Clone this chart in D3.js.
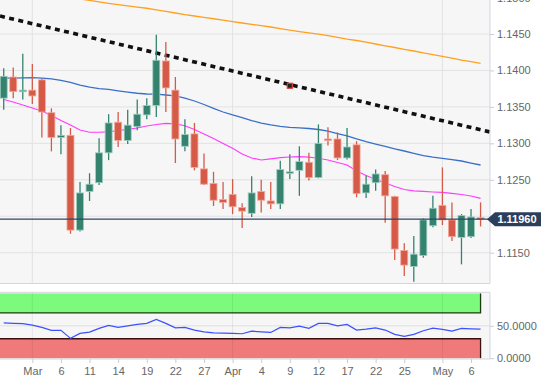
<!DOCTYPE html>
<html>
<head>
<meta charset="utf-8">
<script src="https://cdn.jsdelivr.net/npm/d3@7"></script>
<style>
    body { margin: 0; background: #fff; }
    #chart-area { width: 550px; height: 387px; }
    .axis text { font-family: "Liberation Sans", Arial, sans-serif; font-size: 11px; fill: #666; }
    .axis line { stroke: #c8ccd6; }
    .axis path { display: none; }
</style>
</head>
<body>
<div id="chart-area"></div>
<script>

// ---- data (EUR/USD daily) ----
let dates = ["2019-02-26","2019-02-27","2019-02-28","2019-03-01","2019-03-04","2019-03-05","2019-03-06","2019-03-07","2019-03-08",
    "2019-03-11","2019-03-12","2019-03-13","2019-03-14","2019-03-15","2019-03-18","2019-03-19","2019-03-20","2019-03-21","2019-03-22",
    "2019-03-25","2019-03-26","2019-03-27","2019-03-28","2019-03-29","2019-04-01","2019-04-02","2019-04-03","2019-04-04","2019-04-05",
    "2019-04-08","2019-04-09","2019-04-10","2019-04-11","2019-04-12","2019-04-15","2019-04-16","2019-04-17","2019-04-18","2019-04-19",
    "2019-04-22","2019-04-23","2019-04-24","2019-04-25","2019-04-26","2019-04-29","2019-04-30","2019-05-01","2019-05-02","2019-05-03",
    "2019-05-06","2019-05-07"];

let opens = [1.1362, 1.1391, 1.1371, 1.1373, 1.1387, 1.1342, 1.1308, 1.1311, 1.1181, 1.1234, 1.1246, 1.1287, 1.1329, 1.1304,
    1.1323, 1.1339, 1.1352, 1.1413, 1.1373, 1.1296, 1.1313, 1.1265, 1.1245, 1.1223, 1.1230, 1.1212, 1.1204, 1.1234, 1.1221,
    1.1217, 1.1259, 1.1263, 1.1274, 1.1253, 1.1306, 1.1306, 1.1280, 1.1298, 1.1232, 1.1246, 1.1257, 1.1227, 1.1153, 1.1131,
    1.1146, 1.1187, 1.1215, 1.1195, 1.1171, 1.1172, 1.1198];
let highs = [1.1403, 1.1404, 1.1423, 1.1409, 1.1389, 1.1348, 1.1325, 1.1321, 1.1247, 1.1259, 1.1307, 1.1340, 1.1343, 1.1346,
    1.1360, 1.1362, 1.1449, 1.1439, 1.1391, 1.1333, 1.1328, 1.1286, 1.1261, 1.1247, 1.1251, 1.1218, 1.1255, 1.1250, 1.1247,
    1.1276, 1.1285, 1.1296, 1.1287, 1.1326, 1.1322, 1.1315, 1.1321, 1.1303, 1.1256, 1.1264, 1.1262, 1.1228, 1.1163, 1.1173,
    1.1197, 1.1228, 1.1267, 1.1219, 1.1203, 1.1210, 1.1219];
let lows = [1.1346, 1.1362, 1.1360, 1.1354, 1.1308, 1.1289, 1.1285, 1.1176, 1.1179, 1.1221, 1.1243, 1.1277, 1.1295, 1.1299,
    1.1318, 1.1333, 1.1336, 1.1343, 1.1273, 1.1289, 1.1263, 1.1243, 1.1214, 1.1210, 1.1203, 1.1184, 1.1199, 1.1205, 1.1210,
    1.1210, 1.1251, 1.1228, 1.1249, 1.1252, 1.1297, 1.1277, 1.1278, 1.1226, 1.1225, 1.1235, 1.1191, 1.1140, 1.1118, 1.1110,
    1.1143, 1.1185, 1.1188, 1.1166, 1.1134, 1.1170, 1.1186];
let closes = [1.1392, 1.1371, 1.1373, 1.1365, 1.1343, 1.1308, 1.1311, 1.1181, 1.1232, 1.1244, 1.1287, 1.1328, 1.1304, 1.1325,
    1.1340, 1.1352, 1.1414, 1.1376, 1.1306, 1.1312, 1.1267, 1.1244, 1.1222, 1.1219, 1.1213, 1.1207, 1.1232, 1.1222, 1.1217,
    1.1264, 1.1261, 1.1275, 1.1253, 1.1300, 1.1304, 1.1280, 1.1295, 1.1231, 1.1244, 1.1258, 1.1228, 1.1155, 1.1133, 1.1148,
    1.1195, 1.1211, 1.1195, 1.1172, 1.1201, 1.1199, 1.1196];

// moving averages
let sma20 = [1.13602, 1.13567, 1.13526, 1.13485, 1.13444, 1.13382, 1.13313, 1.13252, 1.13183, 1.13152, 1.13152, 1.13158,
    1.13176, 1.13193, 1.13211, 1.13238, 1.13259, 1.13275, 1.13268, 1.13242, 1.13190, 1.13128, 1.13067, 1.12998, 1.12932,
    1.12854, 1.12799, 1.12772, 1.12788, 1.12803, 1.12813, 1.12817, 1.12810, 1.12796, 1.12772, 1.12737, 1.12703, 1.12621,
    1.12559, 1.12504, 1.12456, 1.12408, 1.12367, 1.12349, 1.12341, 1.12333, 1.12327, 1.12315, 1.12298, 1.12278, 1.12246];
let sma100 = [1.13894, 1.13896, 1.13899, 1.13901, 1.13896, 1.13885, 1.13865, 1.13835, 1.13800, 1.13770, 1.13752, 1.13739,
    1.13721, 1.13704, 1.13687, 1.13677, 1.13674, 1.13663, 1.13650, 1.13622, 1.13581, 1.13533, 1.13481, 1.13430, 1.13389,
    1.13353, 1.13313, 1.13279, 1.13252, 1.13234, 1.13220, 1.13211, 1.13204, 1.13190, 1.13169, 1.13135, 1.13101, 1.13060,
    1.13023, 1.12991, 1.12957, 1.12925, 1.12895, 1.12864, 1.12833, 1.12810, 1.12795, 1.12778, 1.12758, 1.12730, 1.12703];
let sma200 = [1.15145, 1.15124, 1.15104, 1.15083, 1.15062, 1.15042, 1.15021, 1.15001, 1.14980, 1.14961, 1.14940, 1.14921,
    1.14903, 1.14887, 1.14870, 1.14853, 1.14832, 1.14810, 1.14788, 1.14766, 1.14747, 1.14728, 1.14709, 1.14689, 1.14670,
    1.14651, 1.14633, 1.14615, 1.14596, 1.14574, 1.14552, 1.14534, 1.14516, 1.14497, 1.14477, 1.14455, 1.14431, 1.14411,
    1.14388, 1.14363, 1.14338, 1.14315, 1.14290, 1.14267, 1.14242, 1.14217, 1.14193, 1.14168, 1.14143, 1.14120, 1.14098];

let rsi = [54.6, 53.8, 53.3, 51.1, 47.5, 42.9, 42.9, 30.6, 38.3, 40.3, 46, 50.6, 47.5, 50, 52.2, 53.7, 59.9, 53.7, 46.9, 47.5,
    43.4, 40.7, 39.2, 38.7, 38.3, 37.7, 41.8, 40.7, 39.8, 47.5, 46.9, 49.5, 46, 53.7, 53.7, 50, 52.2, 43.4, 44.9, 46.9,
    43.4, 36.7, 33.6, 36.7, 42.3, 46.5, 44.4, 41.8, 46, 45.4, 44.9];

// trend line anchors + handle
let trendDates = ["2019-02-26", "2019-05-07"];
let trendPrices = [1.14735, 1.13187];
let handleDate = "2019-04-09";
let handlePrice = 1.1379;

let lastPrice = 1.1196;

// axes
let tickDates = ["2019-03-01","2019-03-06","2019-03-11","2019-03-14","2019-03-19","2019-03-22","2019-03-27","2019-04-01",
    "2019-04-04","2019-04-09","2019-04-12","2019-04-17","2019-04-22","2019-04-25","2019-05-01","2019-05-06"];
let tickLabels = ["Mar","6","11","14","19","22","27","Apr","4","9","12","17","22","25","May","6"];
let monthDates = ["2019-03-01","2019-04-01","2019-05-01"];
let priceGrid = [1.1150, 1.1200, 1.1250, 1.1300, 1.1350, 1.1400, 1.1450, 1.1500];
let priceLabels = [1.1150, 1.1250, 1.1300, 1.1350, 1.1400, 1.1450, 1.1500]; // 1.1200 sits under the price tag
let rsiTicks = [0, 50];
let rsiUpper = [70, 100];
let rsiLower = [0, 30];


class CandleChart {

    constructor(parentElement) {
        this.parentElement = parentElement;
        this.displayData = [];
        this.initVis();
    }

    initVis() {
        let vis = this;

        vis.plotW = 490;
        vis.mainH = 283;
        vis.lowTop = 292.3;
        vis.lowBot = 359;

        vis.svg = d3.select("#" + vis.parentElement).append("svg")
            .attr("width", 550)
            .attr("height", 387);

        // index based x (weekends skipped)
        vis.x = d3.scaleLinear()
            .domain([-0.39, 50.99])
            .range([0, vis.plotW]);

        vis.y = d3.scaleLinear()
            .domain([1.110844, 1.149664])
            .range([vis.mainH, 0]);

        vis.yR = d3.scaleLinear()
            .domain([0, 100])
            .range([358.2, 293.4]);

        vis.svg.append("defs").append("clipPath").attr("id", "clip-main")
            .append("rect").attr("x", 0).attr("y", 0).attr("width", vis.plotW).attr("height", vis.mainH);
        vis.svg.select("defs").append("clipPath").attr("id", "clip-low")
            .append("rect").attr("x", 0).attr("y", vis.lowTop).attr("width", vis.plotW).attr("height", vis.lowBot - vis.lowTop);

        // backgrounds
        vis.svg.append("rect").attr("x", 0).attr("y", 0).attr("width", vis.plotW).attr("height", vis.mainH)
            .attr("fill", "#f6f6f6");
        vis.svg.append("rect").attr("x", 0).attr("y", vis.lowTop).attr("width", vis.plotW).attr("height", vis.lowBot - vis.lowTop)
            .attr("fill", "#f6f6f6");

        vis.main = vis.svg.append("g").attr("clip-path", "url(#clip-main)");
        vis.low = vis.svg.append("g").attr("clip-path", "url(#clip-low)");

        vis.wrangleData();
    }

    wrangleData() {
        let vis = this;
        vis.displayData = dates.map((d, i) => ({
            date: d, i: i, o: opens[i], h: highs[i], l: lows[i], c: closes[i],
            s20: sma20[i], s100: sma100[i], s200: sma200[i], rsi: rsi[i]
        }));
        vis.idx = d => dates.indexOf(d);
        vis.updateVis();
    }

    updateVis() {
        let vis = this;
        let x = vis.x, y = vis.y, yR = vis.yR;

        // grid - main
        vis.main.selectAll(".hgrid").data(priceGrid).enter().append("line")
            .attr("class", "hgrid")
            .attr("x1", 0).attr("x2", vis.plotW)
            .attr("y1", d => y(d)).attr("y2", d => y(d))
            .attr("stroke", "#e2e2e2").attr("stroke-width", 1);
        vis.main.selectAll(".vgrid").data(monthDates).enter().append("line")
            .attr("class", "vgrid")
            .attr("x1", d => x(vis.idx(d))).attr("x2", d => x(vis.idx(d)))
            .attr("y1", 0).attr("y2", vis.mainH)
            .attr("stroke", "#e2e2e2").attr("stroke-width", 1);

        // moving averages
        let line = key => d3.line().x(d => x(d.i)).y(d => y(d[key]));
        vis.main.append("path").datum(vis.displayData)
            .attr("d", line("s200")).attr("fill", "none").attr("stroke", "#ffa020").attr("stroke-width", 1.3);
        vis.main.append("path").datum(vis.displayData)
            .attr("d", line("s100")).attr("fill", "none").attr("stroke", "#3a6fc8").attr("stroke-width", 1.3);
        vis.main.append("path").datum(vis.displayData)
            .attr("d", line("s20")).attr("fill", "none").attr("stroke", "#ff3cff").attr("stroke-width", 1.2);

        // trend line, extended to both edges
        let i0 = vis.idx(trendDates[0]), i1 = vis.idx(trendDates[1]);
        let slope = (trendPrices[1] - trendPrices[0]) / (i1 - i0);
        let dom = x.domain();
        vis.main.append("line")
            .attr("x1", x(dom[0])).attr("y1", y(trendPrices[0] + slope * (dom[0] - i0)))
            .attr("x2", x(dom[1])).attr("y2", y(trendPrices[0] + slope * (dom[1] - i0)))
            .attr("stroke", "#111").attr("stroke-width", 3.6).attr("stroke-dasharray", "5,4.4");
        vis.main.append("rect")
            .attr("x", x(vis.idx(handleDate)) - 2.5).attr("y", y(handlePrice) - 2.5)
            .attr("width", 5).attr("height", 5)
            .attr("fill", "#222").attr("stroke", "#e03a30").attr("stroke-width", 1.2);

        // candles
        let up = "#35836f", down = "#d65a48";
        let candles = vis.main.selectAll(".candle").data(vis.displayData).enter().append("g").attr("class", "candle");
        candles.append("line")
            .attr("x1", d => x(d.i)).attr("x2", d => x(d.i))
            .attr("y1", d => y(d.h)).attr("y2", d => y(d.l))
            .attr("stroke", d => d.c >= d.o ? up : down).attr("stroke-width", 1.3);
        candles.append("rect")
            .attr("x", d => x(d.i) - 3.5)
            .attr("y", d => y(Math.max(d.o, d.c)))
            .attr("width", 7)
            .attr("height", d => Math.max(1.6, Math.abs(y(d.o) - y(d.c))))
            .attr("fill", d => d.c >= d.o ? up : down)
            .attr("stroke", d => d.c >= d.o ? "#9fcfc2" : "#f3a89c")
            .attr("stroke-width", 0.8);

        // last price line
        vis.main.append("line")
            .attr("x1", 0).attr("x2", vis.plotW)
            .attr("y1", y(lastPrice)).attr("y2", y(lastPrice))
            .attr("stroke", "#2f4566").attr("stroke-width", 1.3);

        // ---- RSI panel ----
        let xEnd = x(dates.length - 1);
        vis.low.append("rect")
            .attr("x", 0).attr("width", xEnd)
            .attr("y", yR(rsiUpper[1])).attr("height", yR(rsiUpper[0]) - yR(rsiUpper[1]))
            .attr("fill", "#7cfa7c");
        vis.low.append("rect")
            .attr("x", 0).attr("width", xEnd)
            .attr("y", yR(rsiLower[1])).attr("height", yR(rsiLower[0]) - yR(rsiLower[1]))
            .attr("fill", "#f07a7a");
        vis.low.append("path")
            .attr("d", `M0,${yR(rsiUpper[0])}H${xEnd}V${yR(rsiUpper[1])}`)
            .attr("fill", "none").attr("stroke", "#1b3a10").attr("stroke-width", 1.3);
        vis.low.append("path")
            .attr("d", `M0,${yR(rsiLower[1])}H${xEnd}V${yR(rsiLower[0])}`)
            .attr("fill", "none").attr("stroke", "#3a1010").attr("stroke-width", 1.3);

        vis.low.append("line")
            .attr("x1", 0).attr("x2", vis.plotW)
            .attr("y1", yR(50)).attr("y2", yR(50))
            .attr("stroke", "#e2e2e2");
        vis.low.selectAll(".vgrid").data(monthDates).enter().append("line")
            .attr("class", "vgrid")
            .attr("x1", d => x(vis.idx(d))).attr("x2", d => x(vis.idx(d)))
            .attr("y1", vis.lowTop).attr("y2", vis.lowBot)
            .attr("stroke", "rgba(0,0,0,0.07)");

        vis.low.append("path").datum(vis.displayData)
            .attr("d", d3.line().x(d => x(d.i)).y(d => yR(d.rsi)))
            .attr("fill", "none").attr("stroke", "#3c50ff").attr("stroke-width", 1.2);

        // panel borders
        let border = "#d3d6df";
        vis.svg.append("line").attr("x1", 0).attr("x2", vis.plotW).attr("y1", vis.mainH + 0.5).attr("y2", vis.mainH + 0.5)
            .attr("stroke", border);
        vis.svg.append("line").attr("x1", 0).attr("x2", vis.plotW).attr("y1", vis.lowTop).attr("y2", vis.lowTop)
            .attr("stroke", border);
        vis.svg.append("line").attr("x1", 0).attr("x2", vis.plotW).attr("y1", vis.lowBot).attr("y2", vis.lowBot)
            .attr("stroke", border);
        vis.svg.append("line").attr("x1", vis.plotW).attr("x2", vis.plotW).attr("y1", 0).attr("y2", vis.mainH)
            .attr("stroke", border);
        vis.svg.append("line").attr("x1", vis.plotW).attr("x2", vis.plotW).attr("y1", vis.lowTop).attr("y2", vis.lowBot)
            .attr("stroke", border);

        // axes
        vis.svg.append("g")
            .attr("class", "axis")
            .attr("transform", `translate(${vis.plotW},0)`)
            .call(d3.axisRight(y).tickValues(priceLabels).tickFormat(d3.format(".4f")).tickSize(4).tickPadding(3));
        vis.svg.append("g")
            .attr("class", "axis")
            .attr("transform", `translate(${vis.plotW},0)`)
            .call(d3.axisRight(yR).tickValues(rsiTicks).tickFormat(d3.format(".4f")).tickSize(4).tickPadding(3));
        vis.svg.append("g")
            .attr("class", "axis")
            .attr("transform", `translate(0,${vis.lowBot})`)
            .call(d3.axisBottom(x).tickValues(tickDates.map(vis.idx))
                .tickFormat((d, i) => tickLabels[i]).tickSize(4).tickPadding(4));

        // price tag
        let ty = y(lastPrice);
        vis.svg.append("path")
            .attr("d", `M${vis.plotW - 3},${ty} L${vis.plotW + 5},${ty - 7} H541 V${ty + 7} H${vis.plotW + 5} Z`)
            .attr("fill", "#2c3e5c");
        vis.svg.append("text")
            .attr("x", 517).attr("y", ty).attr("dy", "0.36em")
            .attr("text-anchor", "middle")
            .attr("font-family", "Liberation Sans, Arial, sans-serif")
            .attr("font-size", "11px").attr("font-weight", "bold")
            .attr("fill", "#fff")
            .text(d3.format(".5f")(lastPrice));
    }
}

new CandleChart("chart-area");

</script>
</body>
</html>
